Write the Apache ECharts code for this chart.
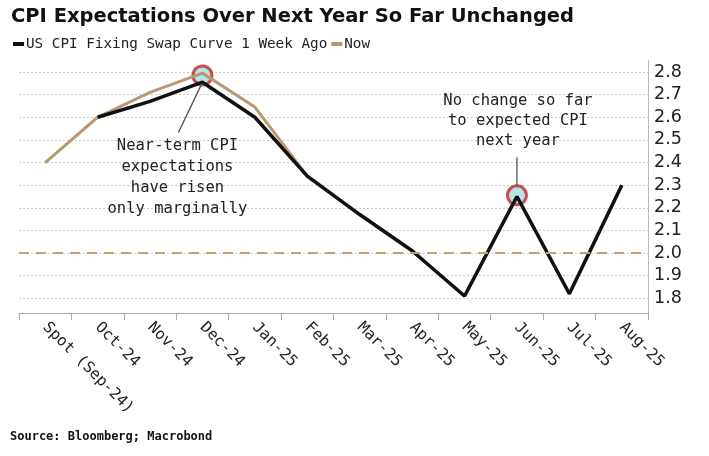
<!DOCTYPE html>
<html><head><meta charset="utf-8">
<script src="https://cdn.jsdelivr.net/npm/echarts@6/dist/echarts.min.js"></script>
<style>html,body{margin:0;padding:0;background:#fff}#c{width:709px;height:456px}</style>
</head><body><div id="c"></div>
<script>
const categories = ['Spot (Sep-24)','Oct-24','Nov-24','Dec-24','Jan-25','Feb-25','Mar-25','Apr-25','May-25','Jun-25','Jul-25','Aug-25'];
const weekAgo = [null, 2.60, 2.67, 2.755, 2.60, 2.34, 2.17, 2.01, 1.81, 2.25, 1.82, 2.30];
const now     = [2.40, 2.60, 2.71, 2.795, 2.645, 2.34, 2.17, 2.01, 1.81, 2.25, 1.82, 2.30];
const yTicks = [1.8,1.9,2.0,2.1,2.2,2.3,2.4,2.5,2.6,2.7,2.8];
const refLevel = 2.0;
const highlights = [['Dec-24', 2.785], ['Jun-25', 2.255]];
const note1 = ['Near-term CPI','expectations','have risen','only marginally'];
const note2 = ['No change so far','to expected CPI','next year'];

const mono = '"DejaVu Sans Mono", monospace';
const chart = echarts.init(document.getElementById('c'));
chart.setOption({
  animation:false,
  title:{text:'CPI Expectations Over Next Year So Far Unchanged',left:6,top:2,
    textStyle:{fontFamily:'"DejaVu Sans"',fontWeight:'bold',fontSize:19.5,color:'#111'}},
  legend:{left:8,top:32,itemGap:4,itemWidth:11,itemHeight:4,icon:'rect',
    textStyle:{fontFamily:mono,fontSize:14.3,color:'#222',padding:[0,0,0,-3]},
    data:['US CPI Fixing Swap Curve 1 Week Ago','Now']},
  grid:{left:19,right:61,top:60,bottom:143,containLabel:false},
  xAxis:{type:'category',data:categories,boundaryGap:true,
    axisLine:{lineStyle:{color:'#aaa',width:1}},
    axisTick:{show:true,length:7,lineStyle:{color:'#aaa'}},
    axisLabel:{rotate:-45,margin:12,fontFamily:mono,fontSize:15.5,color:'#222',interval:0}},
  yAxis:{type:'value',position:'right',min:1.735,max:2.853,
    axisLine:{show:true,lineStyle:{color:'#bbb'}},
    axisTick:{show:false,customValues:yTicks},
    axisLabel:{customValues:yTicks,formatter:v=>v.toFixed(1),margin:6,fontFamily:'"DejaVu Sans"',fontSize:17.5,color:'#222'},
    splitLine:{show:true,lineStyle:{color:'#ccc',type:[2,2],width:1}}},
  series:[
    {name:'US CPI Fixing Swap Curve 1 Week Ago',type:'line',data:weekAgo,symbol:'none',z:4,
      lineStyle:{color:'#111',width:3.5},itemStyle:{color:'#111'},
      markLine:{silent:true,symbol:'none',label:{show:false},
        lineStyle:{color:'#c9a074',type:[10,7],width:2},data:[{yAxis:refLevel}]}},
    {name:'Now',type:'line',data:now,symbol:'none',z:3,
      lineStyle:{color:'#b89a72',width:3},itemStyle:{color:'#b89a72'}},
    {type:'scatter',data:highlights,symbol:'circle',symbolSize:19,z:2,silent:true,
      itemStyle:{color:'#a2dfe4',borderColor:'#c4262b',borderWidth:3}}
  ]
});

function addNotes(){
  const p1 = chart.convertToPixel({gridIndex:0},['Dec-24',2.785]);
  const p2 = chart.convertToPixel({gridIndex:0},['Jun-25',2.255]);
  const g = [];
  g.push({type:'line',shape:{x1:p1[0]-1,y1:p1[1]+9,x2:p1[0]-24,y2:p1[1]+57},style:{stroke:'#555',lineWidth:1.3},z:10});
  g.push({type:'text',x:p1[0]-25,y:p1[1]+60,style:{text:note1.join('\n'),align:'center',verticalAlign:'top',
    font:'15.5px '+mono,lineHeight:21,fill:'#222'},z:10});
  g.push({type:'line',shape:{x1:p2[0],y1:p2[1]-9,x2:p2[0],y2:p2[1]-38},style:{stroke:'#555',lineWidth:1.3},z:10});
  g.push({type:'text',x:p2[0]+1,y:p2[1]-104,style:{text:note2.join('\n'),align:'center',verticalAlign:'top',
    font:'15.5px '+mono,lineHeight:20,fill:'#222'},z:10});
  g.push({type:'text',left:10,top:431,style:{text:'Source: Bloomberg; Macrobond',font:'bold 12px '+mono,fill:'#111'}});
  chart.setOption({graphic:g});
}
addNotes();
</script></body></html>
